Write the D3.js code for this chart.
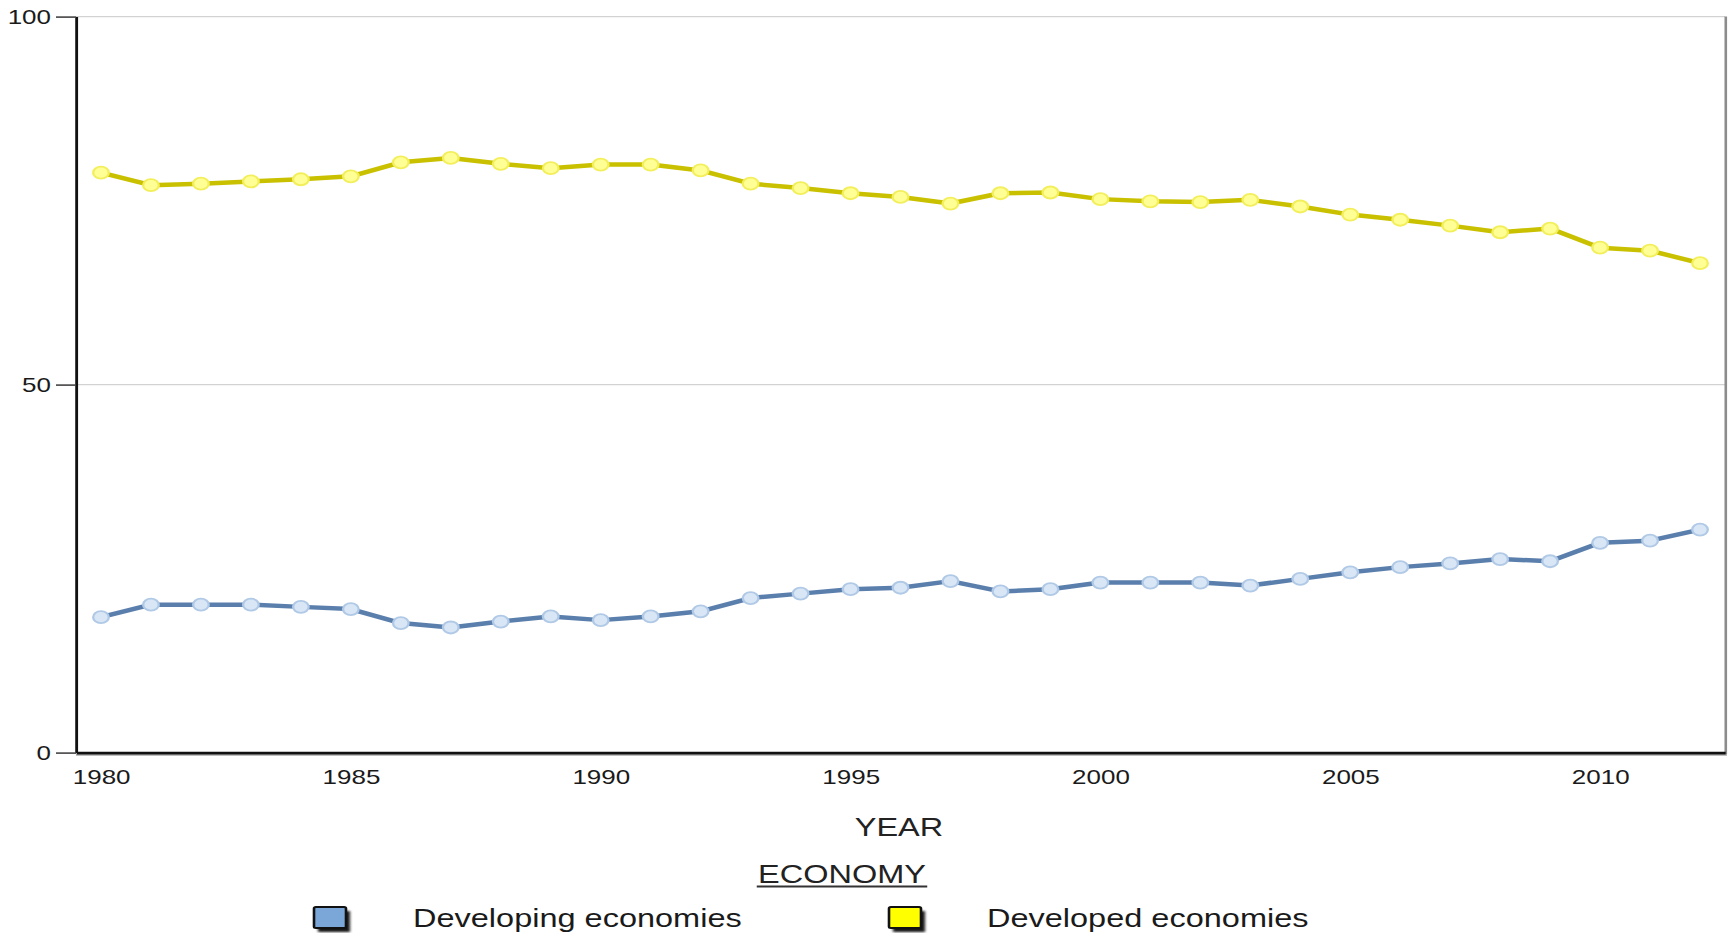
<!DOCTYPE html>
<html>
<head>
<meta charset="utf-8">
<script src="https://cdn.jsdelivr.net/npm/d3@7"></script>
<style>
  body { margin: 0; background: #fff; }
  svg { display: block; }
  text { font-family: "Liberation Sans", Arial, Helvetica, sans-serif; }
</style>
</head>
<body>
<svg id="chart" width="1733" height="933"></svg>
<script>
// ---- data ----
const years = [1980, 1981, 1982, 1983, 1984, 1985, 1986, 1987, 1988, 1989,
               1990, 1991, 1992, 1993, 1994, 1995, 1996, 1997, 1998, 1999,
               2000, 2001, 2002, 2003, 2004, 2005, 2006, 2007, 2008, 2009,
               2010, 2011, 2012];
const developing = [18.4, 20.1, 20.1, 20.1, 19.8, 19.5, 17.6, 17.0, 17.8, 18.5,
                    18.0, 18.5, 19.2, 21.0, 21.6, 22.2, 22.4, 23.3, 21.9, 22.2,
                    23.1, 23.1, 23.1, 22.7, 23.6, 24.5, 25.2, 25.7, 26.3, 26.0,
                    28.5, 28.8, 30.3];
const developed = [78.8, 77.1, 77.3, 77.6, 77.9, 78.3, 80.2, 80.8, 80.0, 79.4,
                   79.9, 79.9, 79.1, 77.3, 76.7, 76.0, 75.5, 74.6, 76.0, 76.1,
                   75.2, 74.9, 74.8, 75.1, 74.2, 73.1, 72.4, 71.6, 70.7, 71.2,
                   68.6, 68.2, 66.5];
const seriesNames = ["Developing economies", "Developed economies"];
const xTicks = [1980, 1985, 1990, 1995, 2000, 2005, 2010];
const yTicks = [0, 50, 100];
const xTitle = "YEAR";
const legendTitle = "ECONOMY";

// ---- styling ----
const styles = [
  { line: "#5b7fac", fill: "#d9e6f5", stroke: "#b0c9e6", swatch: "#7aa6d8" },
  { line: "#c9c100", fill: "#ffff96", stroke: "#f3ef5c", swatch: "#ffff00" }
];

// the whole drawing is widened horizontally by this factor
const S = 1.3;
const fx = v => v / S;

const svg = d3.select("#chart");
const g = svg.append("g").attr("transform", `scale(${S},1)`);

const plot = { left: 76, right: 1725, top: 16.6, bottom: 752.6 };

const x = d3.scaleLinear().domain([1979.5, 2012.5]).range([fx(plot.left), fx(plot.right)]);
const y = d3.scaleLinear().domain([0, 100]).range([plot.bottom, plot.top]);

// horizontal grid lines
g.append("g").selectAll("line")
  .data(yTicks.filter(d => d > 0))
  .join("line")
  .attr("x1", fx(plot.left)).attr("x2", fx(plot.right))
  .attr("y1", d => y(d)).attr("y2", d => y(d))
  .attr("stroke", "#d2d2d2").attr("stroke-width", 1.4);

// right frame edge
g.append("line")
  .attr("x1", fx(plot.right) + 0.6).attr("x2", fx(plot.right) + 0.6)
  .attr("y1", plot.top).attr("y2", plot.bottom + 2)
  .attr("stroke", "#8c8c8c").attr("stroke-width", 2);

// bottom axis shadow
g.append("line")
  .attr("x1", fx(plot.left)).attr("x2", fx(plot.right) + 1.5)
  .attr("y1", plot.bottom + 2.5).attr("y2", plot.bottom + 2.5)
  .attr("stroke", "#a8a8a8").attr("stroke-width", 1.5);

// y axis
const yAxis = g.append("g")
  .attr("transform", `translate(${fx(plot.left)},0)`)
  .call(d3.axisLeft(y).tickValues(yTicks).tickSize(fx(20)).tickSizeOuter(0).tickPadding(fx(5)));
yAxis.select(".domain").attr("stroke", "#111").attr("stroke-width", 2.2);
yAxis.selectAll(".tick line").attr("stroke", "#444").attr("stroke-width", 1.6);
yAxis.selectAll(".tick text")
  .attr("font-size", 20).attr("fill", "#1a1a1a")
  .attr("font-family", "Liberation Sans, Arial, sans-serif")
  .attr("dy", "0.35em");

// x axis
const xAxis = g.append("g")
  .attr("transform", `translate(0,${plot.bottom})`)
  .call(d3.axisBottom(x).tickValues(xTicks).tickSize(0).tickSizeOuter(0)
        .tickPadding(17).tickFormat(d3.format("d")));
xAxis.select(".domain").attr("stroke", "#111").attr("stroke-width", 2.8);
xAxis.selectAll(".tick text")
  .attr("font-size", 20).attr("fill", "#1a1a1a")
  .attr("font-family", "Liberation Sans, Arial, sans-serif");

// series lines and markers
const series = [developing, developed];
const line = d3.line().x((d, i) => x(years[i])).y(d => y(d));

series.forEach((vals, k) => {
  const st = styles[k];
  g.append("path")
    .datum(vals)
    .attr("d", line)
    .attr("fill", "none")
    .attr("stroke", st.line)
    .attr("stroke-width", 4.5)
    .attr("stroke-linejoin", "round");
  g.append("g").selectAll("circle")
    .data(vals)
    .join("circle")
    .attr("cx", (d, i) => x(years[i]))
    .attr("cy", d => y(d))
    .attr("r", 6)
    .attr("fill", st.fill)
    .attr("stroke", st.stroke)
    .attr("stroke-width", 1.8);
});

// x-axis title
g.append("text")
  .attr("x", fx(899)).attr("y", 836)
  .attr("text-anchor", "middle")
  .attr("font-size", 25).attr("fill", "#222")
  .text(xTitle);

// legend title with underline
const lt = g.append("text")
  .attr("x", fx(842)).attr("y", 883)
  .attr("text-anchor", "middle")
  .attr("font-size", 25).attr("fill", "#222")
  .text(legendTitle);
const lb = lt.node().getBBox();
g.append("line")
  .attr("x1", lb.x - 1).attr("x2", lb.x + lb.width + 1)
  .attr("y1", 886.5).attr("y2", 886.5)
  .attr("stroke", "#333").attr("stroke-width", 2);

// legend entries
const legendPos = [
  { box: 314, text: 413 },
  { box: 889, text: 987 }
];
const defs = svg.append("defs");
defs.append("filter").attr("id", "swatchShadow")
  .attr("x", "-30%").attr("y", "-30%").attr("width", "170%").attr("height", "170%")
  .append("feGaussianBlur").attr("stdDeviation", 1.2);

seriesNames.forEach((name, k) => {
  const p = legendPos[k];
  const bw = fx(32), bh = 21;
  g.append("rect")
    .attr("x", fx(p.box + 4)).attr("y", 907 + 4)
    .attr("width", bw).attr("height", bh)
    .attr("fill", "#000").attr("opacity", 0.9)
    .attr("filter", "url(#swatchShadow)");
  g.append("rect")
    .attr("x", fx(p.box)).attr("y", 907)
    .attr("width", bw).attr("height", bh)
    .attr("rx", 1.5)
    .attr("fill", styles[k].swatch)
    .attr("stroke", "#111").attr("stroke-width", 2);
  g.append("text")
    .attr("x", fx(p.text)).attr("y", 927)
    .attr("font-size", 25).attr("fill", "#1a1a1a")
    .text(name);
});
</script>
</body>
</html>
